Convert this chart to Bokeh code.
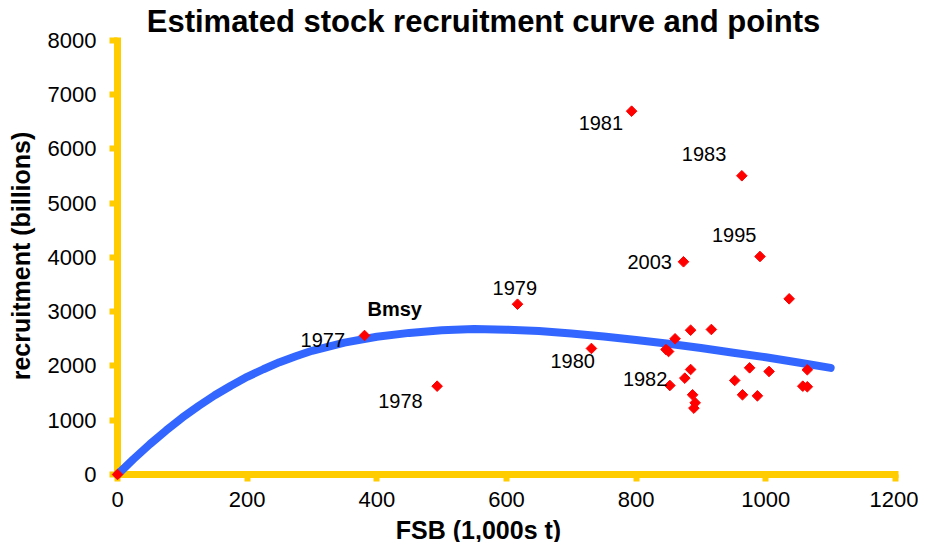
import numpy as np
from bokeh.plotting import figure
from bokeh.models import Range1d, SingleIntervalTicker, Label, ColumnDataSource
from bokeh.core.properties import value
from bokeh.embed import file_html
from bokeh.resources import INLINE

FONT = "Liberation Sans"

# ---- data ----
title_text = "Estimated stock recruitment curve and points"
x_title = "FSB (1,000s t)"
y_title = "recruitment (billions)"
bmsy_text = "Bmsy"

# observed stock (FSB, 1,000s t) and recruitment (billions)
point_fsb = [0, 381, 493, 617, 731, 793, 852, 963, 991, 873,
             1036, 846, 850, 860, 884, 916, 884, 875, 887, 891,
             889, 952, 964, 975, 987, 1005, 1057, 1064, 1064]
point_rec = [0, 2562, 1628, 3139, 2323, 6697, 1641, 5506, 4018, 3921,
             3238, 2304, 2267, 2501, 2660, 2673, 1935, 1776, 1469, 1321,
             1223, 1733, 1469, 1966, 1450, 1899, 1628, 1617, 1930]
point_year = ["", "1977", "1978", "1979", "1980", "1981", "1982", "1983", "1995", "2003",
              "", "", "", "", "", "", "", "", "", "",
              "", "", "", "", "", "", "", "", ""]

# estimated stock-recruitment curve
curve_fsb = [0, 25, 50, 75, 100, 125, 150, 175, 200, 225, 250, 275, 300, 350,
             400, 450, 500, 550, 600, 650, 700, 750, 800, 850, 900, 950,
             1000, 1050, 1100]
curve_rec = [0, 288, 560, 812, 1050, 1262, 1460, 1637, 1800, 1940, 2070, 2180, 2280, 2430,
             2540, 2610, 2660, 2680, 2670, 2645, 2600, 2545, 2480, 2410, 2330, 2245,
             2160, 2065, 1965]

# axis extents
x_axis_max = 1205
y_axis_max = 8060

# ---- styles (label offsets in pixels, +dy = down) ----
label_offsets = {
    "1977": (-64, 4), "1978": (-59, 15), "1979": (-25, -16), "1980": (-41, 13),
    "1981": (-53, 12), "1982": (-47, -6), "1983": (-60, -22), "1995": (-48, -22),
    "2003": (-56, 0),
}

YELLOW = "#FFCC00"
BLUE = "#3366FF"
RED = "#FF0000"

W, H = 918, 542
# the plotting frame fills the whole canvas; axes sit at data 0
p = figure(width=W, height=H,
           x_range=Range1d(-180.5, 1235.5), y_range=Range1d(-1253.5, 8737),
           output_backend="svg", toolbar_location=None,
           min_border_left=0, min_border_right=0,
           min_border_top=0, min_border_bottom=0,
           background_fill_color="white", border_fill_color="white")
p.grid.visible = False
p.outline_line_color = None

p.xaxis.fixed_location = 0
p.yaxis.fixed_location = 0
p.xaxis.bounds = (0, x_axis_max)
p.yaxis.bounds = (0, y_axis_max)
p.xaxis.ticker = SingleIntervalTicker(interval=200, num_minor_ticks=0)
p.yaxis.ticker = SingleIntervalTicker(interval=1000, num_minor_ticks=0)
for ax in (p.xaxis, p.yaxis):
    ax.level = "underlay"
    ax.axis_line_color = YELLOW
    ax.axis_line_width = 7
    ax.major_tick_line_color = YELLOW
    ax.major_tick_line_width = 6
    ax.major_tick_in = 0
    ax.minor_tick_line_color = None
    ax.major_label_text_font = FONT
    ax.major_label_text_font_size = "22px"
    ax.major_label_text_color = "black"
p.xaxis.major_tick_out = 7
p.yaxis.major_tick_out = 8
p.xaxis.major_label_standoff = 11
p.yaxis.major_label_standoff = 13

p.yaxis.axis_label = y_title
p.yaxis.axis_label_text_font = FONT
p.yaxis.axis_label_text_font_size = "25px"
p.yaxis.axis_label_text_font_style = "bold"
p.yaxis.axis_label_text_color = "black"
p.yaxis.axis_label_standoff = 10

p.line(curve_fsb, curve_rec, line_color=BLUE, line_width=8, line_cap="round",
       line_join="round")
p.scatter(point_fsb, point_rec, marker="square", angle=np.pi / 4, size=7.5,
          fill_color=RED, line_color=RED)

lab = {"x": [], "y": [], "t": [], "dx": [], "dy": []}
for xv, yv, yr in zip(point_fsb, point_rec, point_year):
    if yr:
        lab["x"].append(xv)
        lab["y"].append(yv)
        lab["t"].append(yr)
        lab["dx"].append(label_offsets[yr][0])
        lab["dy"].append(label_offsets[yr][1])
src = ColumnDataSource(lab)
p.text(x="x", y="y", text="t", x_offset="dx", y_offset="dy", source=src,
       text_font=value(FONT), text_font_size="20px", text_color="black",
       text_align="left", text_baseline="middle")

p.add_layout(Label(x=point_fsb[1], y=point_rec[1], x_offset=3, y_offset=27,
                   text=bmsy_text, text_font=FONT, text_font_size="20px",
                   text_font_style="bold", text_color="black",
                   text_align="left", text_baseline="middle"))

p.add_layout(Label(x=483, y=H - 21, x_units="screen", y_units="screen",
                   text=title_text, text_font=FONT, text_font_size="31px",
                   text_font_style="bold", text_color="black",
                   text_align="center", text_baseline="middle"))
p.add_layout(Label(x=478, y=H - 529, x_units="screen", y_units="screen",
                   text=x_title, text_font=FONT, text_font_size="25px",
                   text_font_style="bold", text_color="black",
                   text_align="center", text_baseline="middle"))

open("out.html", "w").write(file_html(p, INLINE))
